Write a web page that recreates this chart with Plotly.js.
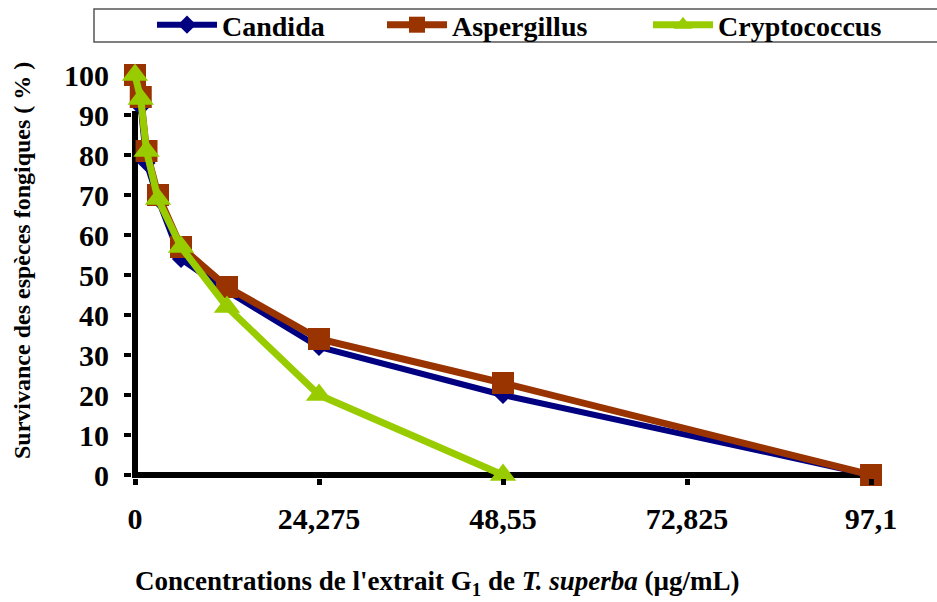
<!DOCTYPE html>
<html>
<head>
<meta charset="utf-8">
<script src="https://cdn.plot.ly/plotly-3.0.1.min.js"></script>
<style>
  html, body { margin: 0; padding: 0; background: #ffffff; }
  #chart { width: 937px; height: 602px; }
</style>
</head>
<body>
<div id="chart"></div>
<script>
// Concentrations (µg/mL)
const concentrations = [0, 0.759, 1.517, 3.034, 6.069, 12.1375, 24.275, 48.55, 97.1];
const concentrationsCrypto = [0, 0.759, 1.517, 3.034, 6.069, 12.1375, 24.275, 48.55];
// Survival (%)
const candida = [100, 92, 78, 69, 54, 46, 32, 20, 0];
const aspergillus = [100, 94.5, 81, 70, 57, 47, 34, 23, 0];
const cryptococcus = [100, 94, 81, 69, 57, 42, 20, 0];
// Series names
const seriesNames = ["Candida", "Aspergillus", "Cryptococcus"];
// Tick labels
const xTickVals = [0, 24.275, 48.55, 72.825, 97.1];
const xTickText = ["0", "24,275", "48,55", "72,825", "97,1"];
const yTickVals = [0, 10, 20, 30, 40, 50, 60, 70, 80, 90];
const yTickText = ["0", "10", "20", "30", "40", "50", "60", "70", "80", "90"];
const yTopVal = [100];
const yTopText = ["100"];

const FONT = "Liberation Serif";
const bold = s => "<b>" + s + "</b>";

const traces = [
  {
    x: concentrations, y: candida, name: bold(seriesNames[0]), type: "scatter", mode: "lines+markers",
    line: { color: "#000080", width: 6 },
    marker: { symbol: "diamond", size: 14, color: "#000080" },
    cliponaxis: false, legend: "legend"
  },
  {
    x: concentrations, y: aspergillus, name: bold(seriesNames[1]), type: "scatter", mode: "lines+markers",
    line: { color: "#993300", width: 7 },
    marker: { symbol: "square", size: 22, color: "#993300" },
    cliponaxis: false, legend: "legend2"
  },
  {
    x: concentrationsCrypto, y: cryptococcus, name: bold(seriesNames[2]), type: "scatter", mode: "lines+markers",
    line: { color: "#99CC00", width: 7 },
    marker: { symbol: "triangle-up", size: 23, color: "#99CC00" },
    cliponaxis: false, legend: "legend3"
  },
  {
    x: [0], y: [100], yaxis: "y2", type: "scatter", mode: "markers",
    marker: { opacity: 0 }, showlegend: false, hoverinfo: "skip"
  }
];

function legendAt(px) {
  return {
    orientation: "h",
    xref: "container", yref: "container",
    x: px / 937, xanchor: "left",
    y: 1, yanchor: "top",
    font: { family: FONT, size: 28, color: "#000" },
    bgcolor: "rgba(0,0,0,0)", borderwidth: 0,
    itemwidth: 60
  };
}

const layout = {
  width: 937, height: 602,
  margin: { l: 132, r: 59, t: 71, b: 124 },
  font: { family: FONT, color: "#000" },
  paper_bgcolor: "#ffffff", plot_bgcolor: "#ffffff",
  showlegend: true,
  legend: legendAt(152),
  legend2: legendAt(382),
  legend3: legendAt(648),
  xaxis: {
    range: [-0.396, 98.02],
    tickmode: "array", tickvals: xTickVals, ticktext: xTickText.map(bold),
    ticks: "outside", ticklen: 6, tickwidth: 5, tickcolor: "#000",
    showgrid: false, zeroline: false, showline: false,
    tickfont: { family: FONT, size: 30, color: "#000" },
    ticklabelstandoff: 8
  },
  yaxis: {
    range: [-0.75, 101],
    tickmode: "array", tickvals: yTickVals, ticktext: yTickText.map(bold),
    ticks: "outside", ticklen: 7, tickwidth: 4, tickcolor: "#000",
    showgrid: false, zeroline: false, showline: false,
    tickfont: { family: FONT, size: 30, color: "#000" },
    ticklabelstandoff: 9
  },
  yaxis2: {
    range: [-0.75, 101], overlaying: "y", side: "left",
    tickmode: "array", tickvals: yTopVal, ticktext: yTopText.map(bold),
    ticks: "outside", ticklen: 7, tickwidth: 4, tickcolor: "rgba(0,0,0,0)",
    showgrid: false, zeroline: false, showline: false,
    tickfont: { family: FONT, size: 30, color: "#000" },
    ticklabelstandoff: 9
  },
  shapes: [
    { type: "line", layer: "below", xref: "paper", yref: "y", x0: 0, x1: 1, y0: 0, y1: 0,
      line: { color: "#000", width: 6 } },
    { type: "line", layer: "below", xref: "x", yref: "y", x0: 0, x1: 0, y0: -0.75, y1: 91,
      line: { color: "#000", width: 6 } },
    { type: "rect", layer: "below", xref: "paper", yref: "paper",
      x0: (94 - 132) / 746, x1: (945 - 132) / 746,
      y0: 1 + (71 - 42) / 407, y1: 1 + (71 - 9) / 407,
      line: { color: "#555", width: 1.5 }, fillcolor: "rgba(0,0,0,0)" }
  ],
  annotations: [
    { xref: "paper", yref: "paper",
      x: (437 - 132) / 746, y: -(583 - 478) / 407, xanchor: "center", yanchor: "middle",
      showarrow: false,
      text: "<b>Concentrations de l'extrait G<sub>1</sub> de <i>T. superba</i> (µg/mL)</b>",
      font: { family: FONT, size: 27, color: "#000" } },
    { xref: "paper", yref: "paper",
      x: (22 - 132) / 746, y: (478 - 261) / 407, xanchor: "center", yanchor: "middle",
      showarrow: false, textangle: -90,
      text: "<b>Survivance des espèces fongiques ( % )</b>",
      font: { family: FONT, size: 24, color: "#000" } }
  ]
};

Plotly.newPlot("chart", traces, layout, { displayModeBar: false, staticPlot: true });
</script>
</body>
</html>
